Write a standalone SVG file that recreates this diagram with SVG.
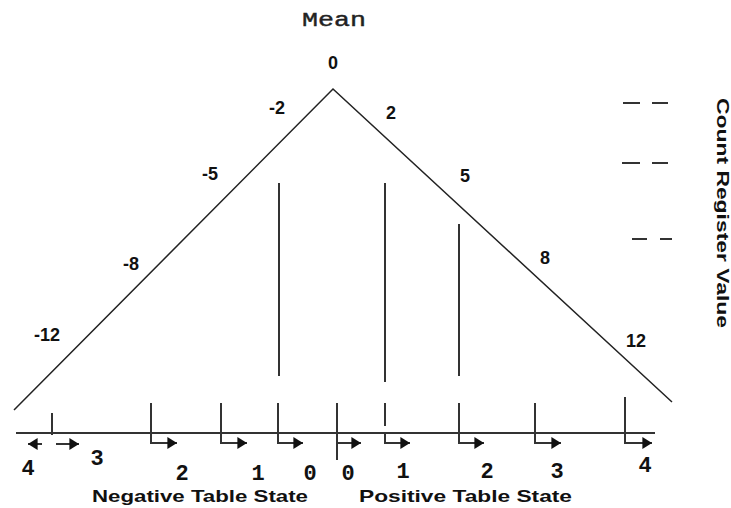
<svg xmlns="http://www.w3.org/2000/svg" width="731" height="508" viewBox="0 0 731 508">
<defs>
<style>
.ln{stroke:#222;stroke-width:1.5;fill:none}
.tk{stroke:#333;stroke-width:2;fill:none}
.num{font-family:"Liberation Sans",Arial,sans-serif;font-weight:bold;font-size:18px;fill:#111;text-anchor:middle}
.dig{font-family:"Liberation Mono","Courier New",monospace;font-weight:bold;font-size:22px;fill:#111;text-anchor:middle}
.lbl{font-family:"Liberation Sans",Arial,sans-serif;font-weight:bold;font-size:17px;fill:#111}
.mono{font-family:"Liberation Mono","Courier New",monospace;font-size:20px;fill:#222;stroke:#222;stroke-width:0.4}
</style>
<marker id="ah" viewBox="0 0 8 10" refX="8" refY="5" markerWidth="10" markerHeight="12" markerUnits="userSpaceOnUse" orient="auto">
<path d="M0,0 L8,5 L0,10 Z" fill="#111"/>
</marker>
</defs>
<rect width="731" height="508" fill="#fff"/>
<g id="triangle">
<polyline class="ln" points="14,410 333,89 672,402"/>
</g>
<g id="connectors">
<line class="tk" x1="16" y1="433" x2="655" y2="433"/>
<line class="tk" x1="279" y1="183" x2="279" y2="376"/>
<line class="tk" x1="385" y1="183" x2="385" y2="382"/>
<line class="tk" x1="459" y1="224" x2="459" y2="376"/>
<line class="tk" x1="52" y1="413" x2="52" y2="435"/>
<line class="tk" x1="42" y1="444" x2="28" y2="444" marker-end="url(#ah)"/>
<line class="tk" x1="56" y1="444" x2="79" y2="444" marker-end="url(#ah)"/>
<polyline class="tk" points="151,403 151,443 177,443" marker-end="url(#ah)"/>
<polyline class="tk" points="221,403 221,443 247,443" marker-end="url(#ah)"/>
<polyline class="tk" points="278,403 278,443 303,443" marker-end="url(#ah)"/>
<line class="tk" x1="337" y1="403" x2="337" y2="460"/>
<line class="tk" x1="337" y1="443" x2="361" y2="443" marker-end="url(#ah)"/>
<line class="tk" x1="385" y1="403" x2="385" y2="426"/>
<polyline class="tk" points="385,433 385,443 410,443" marker-end="url(#ah)"/>
<polyline class="tk" points="459,403 459,443 484,443" marker-end="url(#ah)"/>
<polyline class="tk" points="535,403 535,443 561,443" marker-end="url(#ah)"/>
<polyline class="tk" points="625,397 625,443 652,443" marker-end="url(#ah)"/>
<g id="dashes" class="tk" stroke-width="1.5">
<line x1="623" y1="103" x2="640" y2="103"/><line x1="652" y1="103" x2="668" y2="103"/>
<line x1="622" y1="163" x2="640" y2="163"/><line x1="652" y1="163" x2="668" y2="163"/>
<line x1="632" y1="239" x2="647" y2="239"/><line x1="660" y1="239" x2="672" y2="239"/>
</g>
</g>
<g id="title"><text class="mono" x="302" y="26" textLength="64" lengthAdjust="spacingAndGlyphs">Mean</text></g>
<g id="curve-labels">
<text class="num" x="333" y="69">0</text>
<text class="num" x="277" y="114">-2</text>
<text class="num" x="391" y="119">2</text>
<text class="num" x="210" y="180">-5</text>
<text class="num" x="465" y="182">5</text>
<text class="num" x="131" y="270">-8</text>
<text class="num" x="545" y="264">8</text>
<text class="num" x="47" y="341">-12</text>
<text class="num" x="636" y="347">12</text>
</g>
<g id="state-digits">
<text class="dig" x="28" y="475">4</text>
<text class="dig" x="97" y="465">3</text>
<text class="dig" x="182" y="480">2</text>
<text class="dig" x="258" y="480">1</text>
<text class="dig" x="310" y="480">0</text>
<text class="dig" x="348" y="480">0</text>
<text class="dig" x="403" y="478">1</text>
<text class="dig" x="487" y="478">2</text>
<text class="dig" x="557" y="478">3</text>
<text class="dig" x="645" y="472">4</text>
</g>
<g id="axis-labels">
<text class="lbl" x="92" y="502" textLength="216" lengthAdjust="spacingAndGlyphs">Negative Table State</text>
<text class="lbl" x="359" y="502" textLength="213" lengthAdjust="spacingAndGlyphs">Positive Table State</text>
<text class="lbl" transform="translate(717,213) rotate(90)" text-anchor="middle" textLength="230" lengthAdjust="spacingAndGlyphs">Count Register Value</text>
</g>
</svg>
